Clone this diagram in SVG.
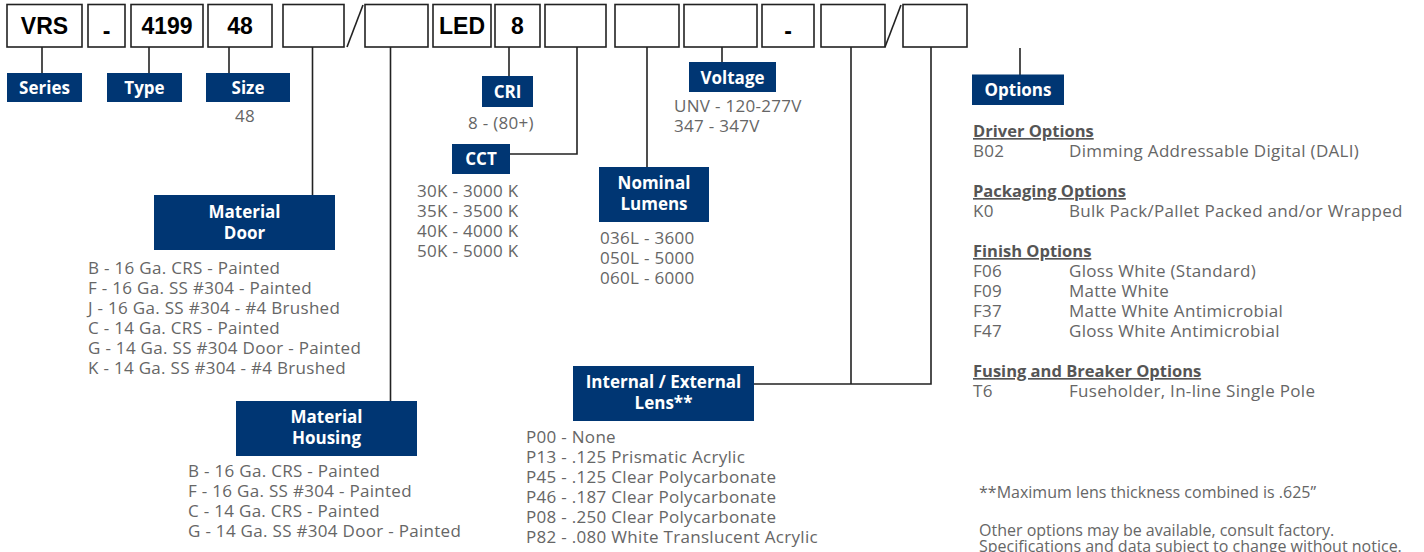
<svg xmlns="http://www.w3.org/2000/svg" width="1424" height="552" viewBox="0 0 1424 552">
<style>
.box{fill:#fff;stroke:#222;stroke-width:1.6}
.bt{font-family:"Liberation Sans",Arial,sans-serif;font-weight:bold;font-size:23px;fill:#000;text-anchor:middle}
.lab{fill:#003673}
.lt{font-family:"Open Sans","Noto Sans",sans-serif;font-weight:bold;font-size:17px;fill:#fff;text-anchor:middle}
.g{font-family:"Open Sans","Noto Sans",sans-serif;font-size:17px;letter-spacing:0.3px;fill:#666}
.n{font-family:"Open Sans","Noto Sans",sans-serif;font-size:16px;fill:#666}
.h{font-family:"Open Sans","Noto Sans",sans-serif;font-weight:bold;font-size:16.5px;fill:#555;text-decoration:underline}
.ln{fill:none;stroke:#222;stroke-width:1.6}
</style>
<rect width="1424" height="552" fill="#fff"/>

<g id="code-boxes">
  <g id="box-vrs"><rect class="box" x="7" y="4.5" width="75" height="42.5"/><text class="bt" x="44.5" y="34">VRS</text></g>
  <g id="box-dash1"><rect class="box" x="88" y="4.5" width="37" height="42.5"/><text class="bt" x="106.5" y="39">-</text></g>
  <g id="box-4199"><rect class="box" x="131" y="4.5" width="72" height="42.5"/><text class="bt" x="167" y="34">4199</text></g>
  <g id="box-48"><rect class="box" x="208" y="4.5" width="64" height="42.5"/><text class="bt" x="240" y="34">48</text></g>
  <g id="box-e1"><rect class="box" x="283" y="4.5" width="61" height="42.5"/></g>
  <g id="box-e2"><rect class="box" x="365" y="4.5" width="63" height="42.5"/></g>
  <g id="box-led"><rect class="box" x="433" y="4.5" width="58" height="42.5"/><text class="bt" x="462" y="34">LED</text></g>
  <g id="box-8"><rect class="box" x="495" y="4.5" width="45" height="42.5"/><text class="bt" x="517.5" y="34">8</text></g>
  <g id="box-e3"><rect class="box" x="545" y="4.5" width="61" height="42.5"/></g>
  <g id="box-e4"><rect class="box" x="615" y="4.5" width="64" height="42.5"/></g>
  <g id="box-e5"><rect class="box" x="684" y="4.5" width="73" height="42.5"/></g>
  <g id="box-dash2"><rect class="box" x="762" y="4.5" width="52" height="42.5"/><text class="bt" x="788" y="39">-</text></g>
  <g id="box-e6"><rect class="box" x="821" y="4.5" width="64" height="42.5"/></g>
  <g id="box-e7"><rect class="box" x="903" y="4.5" width="64" height="42.5"/></g>
</g>

<g id="connectors">
  <line class="ln" x1="347" y1="47" x2="363" y2="5"/>
  <line class="ln" x1="885" y1="47" x2="901" y2="5"/>
  <line class="ln" x1="42" y1="47" x2="42" y2="73"/>
  <line class="ln" x1="149" y1="47" x2="149" y2="73"/>
  <line class="ln" x1="229" y1="47" x2="229" y2="73"/>
  <line class="ln" x1="312.5" y1="47" x2="312.5" y2="195"/>
  <line class="ln" x1="390.5" y1="47" x2="390.5" y2="401"/>
  <line class="ln" x1="509" y1="47" x2="509" y2="76"/>
  <polyline class="ln" points="577,47 577,154 510,154"/>
  <line class="ln" x1="647" y1="47" x2="647" y2="167"/>
  <line class="ln" x1="722" y1="47" x2="722" y2="62"/>
  <line class="ln" x1="851" y1="47" x2="851" y2="384"/>
  <polyline class="ln" points="931,47 931,384 754,384"/>
  <line class="ln" x1="1020" y1="48" x2="1020" y2="75"/>
</g>

<g id="series"><rect class="lab" x="7" y="73" width="75" height="29"/><text class="lt" x="44.5" y="94">Series</text></g>
<g id="type"><rect class="lab" x="107" y="73" width="75" height="29"/><text class="lt" x="144.5" y="94">Type</text></g>
<g id="size"><rect class="lab" x="206" y="73" width="84" height="29"/><text class="lt" x="248" y="94">Size</text>
  <text class="g" x="245" y="122" text-anchor="middle">48</text></g>

<g id="cri"><rect class="lab" x="482" y="76" width="51" height="31"/><text class="lt" x="507.5" y="98">CRI</text>
  <text class="g" x="468" y="129">8 - (80+)</text></g>

<g id="voltage"><rect class="lab" x="689" y="62" width="87" height="30"/><text class="lt" x="732.5" y="83.5">Voltage</text>
  <text class="g" x="674" y="112">UNV - 120-277V</text>
  <text class="g" x="674" y="132">347 - 347V</text></g>

<g id="cct"><rect class="lab" x="452" y="144" width="58" height="30"/><text class="lt" x="481" y="165">CCT</text>
  <text class="g" x="417" y="197">30K - 3000 K</text>
  <text class="g" x="417" y="217">35K - 3500 K</text>
  <text class="g" x="417" y="237">40K - 4000 K</text>
  <text class="g" x="417" y="257">50K - 5000 K</text></g>

<g id="lumens"><rect class="lab" x="599" y="167" width="110" height="55"/>
  <text class="lt" x="654" y="189">Nominal</text><text class="lt" x="654" y="210">Lumens</text>
  <text class="g" x="600" y="244">036L - 3600</text>
  <text class="g" x="600" y="264">050L - 5000</text>
  <text class="g" x="600" y="284">060L - 6000</text></g>

<g id="material-door"><rect class="lab" x="154" y="195" width="181" height="55"/>
  <text class="lt" x="244.5" y="218">Material</text><text class="lt" x="244.5" y="239">Door</text>
  <text class="g" x="88" y="274">B - 16 Ga. CRS - Painted</text>
  <text class="g" x="88" y="294">F - 16 Ga. SS #304 - Painted</text>
  <text class="g" x="88" y="314">J - 16 Ga. SS #304 - #4 Brushed</text>
  <text class="g" x="88" y="334">C - 14 Ga. CRS - Painted</text>
  <text class="g" x="88" y="354">G - 14 Ga. SS #304 Door - Painted</text>
  <text class="g" x="88" y="374">K - 14 Ga. SS #304 - #4 Brushed</text></g>

<g id="material-housing"><rect class="lab" x="236" y="401" width="181" height="55"/>
  <text class="lt" x="326.5" y="423">Material</text><text class="lt" x="326.5" y="444">Housing</text>
  <text class="g" x="188" y="477">B - 16 Ga. CRS - Painted</text>
  <text class="g" x="188" y="497">F - 16 Ga. SS #304 - Painted</text>
  <text class="g" x="188" y="517">C - 14 Ga. CRS - Painted</text>
  <text class="g" x="188" y="537">G - 14 Ga. SS #304 Door - Painted</text></g>

<g id="lens"><rect class="lab" x="573" y="366" width="181" height="55"/>
  <text class="lt" x="663.5" y="388">Internal / External</text><text class="lt" x="663.5" y="409">Lens**</text>
  <text class="g" x="526" y="443">P00 - None</text>
  <text class="g" x="526" y="463">P13 - .125 Prismatic Acrylic</text>
  <text class="g" x="526" y="483">P45 - .125 Clear Polycarbonate</text>
  <text class="g" x="526" y="503">P46 - .187 Clear Polycarbonate</text>
  <text class="g" x="526" y="523">P08 - .250 Clear Polycarbonate</text>
  <text class="g" x="526" y="543">P82 - .080 White Translucent Acrylic</text></g>

<g id="options"><rect class="lab" x="972" y="74.5" width="92" height="30.5"/><text class="lt" x="1018" y="95.5">Options</text>
  <text class="h" x="973" y="137">Driver Options</text>
  <text class="g" x="973" y="157">B02</text><text class="g" x="1069" y="157">Dimming Addressable Digital (DALI)</text>
  <text class="h" x="973" y="197">Packaging Options</text>
  <text class="g" x="973" y="217">K0</text><text class="g" x="1069" y="217">Bulk Pack/Pallet Packed and/or Wrapped</text>
  <text class="h" x="973" y="257">Finish Options</text>
  <text class="g" x="973" y="277">F06</text><text class="g" x="1069" y="277">Gloss White (Standard)</text>
  <text class="g" x="973" y="297">F09</text><text class="g" x="1069" y="297">Matte White</text>
  <text class="g" x="973" y="317">F37</text><text class="g" x="1069" y="317">Matte White Antimicrobial</text>
  <text class="g" x="973" y="337">F47</text><text class="g" x="1069" y="337">Gloss White Antimicrobial</text>
  <text class="h" x="973" y="377">Fusing and Breaker Options</text>
  <text class="g" x="973" y="397">T6</text><text class="g" x="1069" y="397">Fuseholder, In-line Single Pole</text></g>

<g id="notes">
  <text class="n" x="979" y="498">**Maximum lens thickness combined is .625”</text>
  <text class="n" x="979" y="536">Other options may be available, consult factory.</text>
  <text class="n" x="979" y="552">Specifications and data subject to change without notice.</text>
</g>
</svg>
